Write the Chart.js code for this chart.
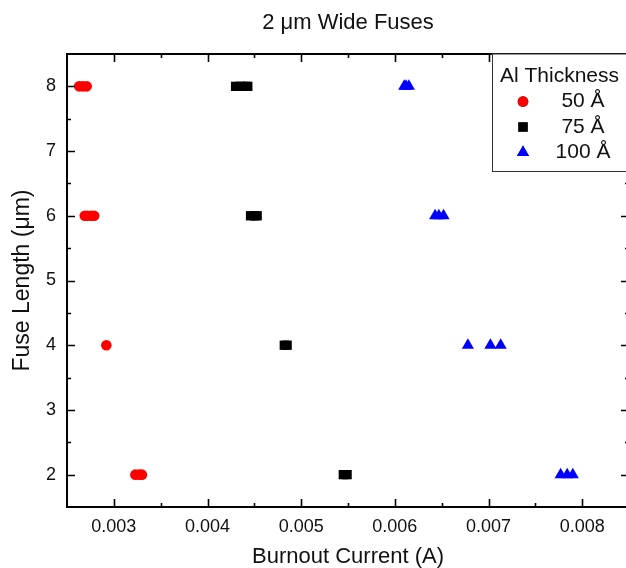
<!DOCTYPE html>
<html>
<head>
<meta charset="utf-8">
<script src="https://cdn.jsdelivr.net/npm/chart.js@4/dist/chart.umd.min.js"></script>
<style>
  html, body { margin: 0; padding: 0; overflow: hidden; background: #fff; }
  #fuses { display: block; }
</style>
</head>
<body>
<canvas id="fuses" width="640" height="568"></canvas>
<script>
// fuse data
const seriesNames = ["50 Å", "75 Å", "100 Å"];

const al50X = [0.00263, 0.00267, 0.00271, 0.00269, 0.00272, 0.00276, 0.00279, 0.00292, 0.00323, 0.00327, 0.0033];
const al50Y = [8, 8, 8, 6, 6, 6, 6, 4, 2, 2, 2];

const al75X = [0.0043, 0.00435, 0.0044, 0.00443, 0.00446, 0.0045, 0.00453, 0.00482, 0.00485, 0.00545, 0.00549];
const al75Y = [8, 8, 8, 8, 6, 6, 6, 4, 4, 2, 2];

const al100X = [0.0061, 0.00612, 0.00615, 0.00643, 0.00647, 0.00652, 0.00678, 0.00702, 0.00713, 0.00777, 0.00784, 0.0079];
const al100Y = [8, 8, 8, 6, 6, 6, 4, 4, 4, 2, 2, 2];

const xTicks = [0.003, 0.004, 0.005, 0.006, 0.007, 0.008];
const yTicks = [2, 3, 4, 5, 6, 7, 8];

const FONT = "'Liberation Sans', Arial, sans-serif";

function pts(xs, ys) {
    return xs.map((x, i) => ({ x: x, y: ys[i] }));
}

// frame + inward ticks (major and half-step minor) on all four sides
const frameTicks = {
    id: "frameTicks",
    afterDatasetsDraw(chart) {
        const ctx = chart.ctx;
        const a = chart.chartArea;
        const sx = chart.scales.x, sy = chart.scales.y;
        ctx.save();
        ctx.strokeStyle = "#000";
        ctx.lineWidth = 1.6;
        ctx.beginPath();
        xTicks.forEach(v => {
            [v, v - 0.0005].forEach((t, k) => {
                if (t <= sx.min || t >= sx.max) return;
                const len = k === 0 ? 8 : 4;
                const px = Math.round(sx.getPixelForValue(t)) + 0.5;
                ctx.moveTo(px, a.bottom); ctx.lineTo(px, a.bottom - len);
                ctx.moveTo(px, a.top); ctx.lineTo(px, a.top + len);
            });
        });
        const lastX = xTicks[xTicks.length - 1] + 0.0005;
        if (lastX < sx.max) {
            const px = Math.round(sx.getPixelForValue(lastX)) + 0.5;
            ctx.moveTo(px, a.bottom); ctx.lineTo(px, a.bottom - 4);
            ctx.moveTo(px, a.top); ctx.lineTo(px, a.top + 4);
        }
        yTicks.forEach(v => {
            [v, v + 0.5].forEach((t, k) => {
                if (t <= sy.min || t >= sy.max) return;
                const len = k === 0 ? 8 : 4;
                const py = Math.round(sy.getPixelForValue(t)) + 0.5;
                ctx.moveTo(a.left, py); ctx.lineTo(a.left + len, py);
                ctx.moveTo(a.right, py); ctx.lineTo(a.right - len, py);
            });
        });
        ctx.stroke();
        ctx.lineWidth = 2;
        ctx.strokeRect(a.left, a.top, a.right - a.left, a.bottom - a.top);
        ctx.restore();
    }
};

// boxed legend in the upper right corner
const boxLegend = {
    id: "boxLegend",
    afterDraw(chart) {
        const ctx = chart.ctx;
        const a = chart.chartArea;
        const left = 492.5, top = a.top, bottom = 171.5;
        ctx.save();
        ctx.fillStyle = "#fff";
        ctx.fillRect(left, top, chart.width - left, bottom - top);
        ctx.strokeStyle = "#333";
        ctx.lineWidth = 1;
        ctx.strokeRect(left, top, chart.width - left + 5, bottom - top);
        ctx.fillStyle = "#111";
        ctx.font = "21px " + FONT;
        ctx.textBaseline = "middle";
        ctx.textAlign = "left";
        ctx.fillText("Al Thickness", 500, 76);
        chart.data.datasets.forEach((ds, i) => {
            const y = 101.5 + i * 25.5;
            Chart.helpers.drawPoint(ctx, {
                pointStyle: ds.pointStyle,
                radius: ds.pointRadius,
                borderWidth: 0,
                rotation: 0
            }, 523, y);
            ctx.fillStyle = ds.backgroundColor;
            ctx.fill();
            ctx.fillStyle = "#111";
            ctx.textAlign = "center";
            ctx.fillText(ds.label, 583, y);
        });
        ctx.restore();
    }
};

new Chart(document.getElementById("fuses"), {
    type: "scatter",
    data: {
        datasets: [
            {
                label: seriesNames[0],
                data: pts(al50X, al50Y),
                pointStyle: "circle",
                pointRadius: 5.3,
                backgroundColor: "#ff0000",
                borderColor: "#ff0000",
                borderWidth: 0
            },
            {
                label: seriesNames[1],
                data: pts(al75X, al75Y),
                pointStyle: "rect",
                pointRadius: 6.6,
                backgroundColor: "#000000",
                borderColor: "#000000",
                borderWidth: 0
            },
            {
                label: seriesNames[2],
                data: pts(al100X, al100Y),
                pointStyle: "triangle",
                pointRadius: 7,
                backgroundColor: "#0000ff",
                borderColor: "#0000ff",
                borderWidth: 0
            }
        ]
    },
    options: {
        responsive: false,
        animation: false,
        layout: { padding: { left: 0, right: 11, top: 0, bottom: 0 } },
        plugins: {
            legend: { display: false },
            tooltip: { enabled: false },
            title: {
                display: true,
                fullSize: false,
                text: "2 μm Wide Fuses",
                color: "#111",
                font: { family: FONT, size: 22, weight: "normal", lineHeight: 1.2 },
                padding: { top: 10, bottom: 17.6 }
            }
        },
        scales: {
            x: {
                type: "linear",
                min: 0.0025,
                max: 0.0085,
                afterBuildTicks: s => { s.ticks = xTicks.map(v => ({ value: v })); },
                afterFit: s => { s.height = 61; },
                grid: { display: false, drawTicks: false },
                border: { display: false },
                ticks: {
                    padding: 9,
                    color: "#111",
                    font: { family: FONT, size: 18 },
                    callback: v => v.toFixed(3)
                },
                title: {
                    display: true,
                    text: "Burnout Current (A)",
                    color: "#111",
                    font: { family: FONT, size: 22, lineHeight: 1 },
                    padding: { top: 0, bottom: 0 }
                }
            },
            y: {
                type: "linear",
                min: 1.5,
                max: 8.5,
                afterBuildTicks: s => { s.ticks = yTicks.map(v => ({ value: v })); },
                afterFit: s => { s.width = 67; },
                grid: { display: false, drawTicks: false },
                border: { display: false },
                ticks: {
                    padding: 11,
                    color: "#111",
                    font: { family: FONT, size: 18 }
                },
                title: {
                    display: true,
                    text: "Fuse Length (μm)",
                    color: "#111",
                    font: { family: FONT, size: 23, lineHeight: 1 },
                    padding: { top: 11, bottom: 0 }
                }
            }
        }
    },
    plugins: [frameTicks, boxLegend]
});
</script>
</body>
</html>
